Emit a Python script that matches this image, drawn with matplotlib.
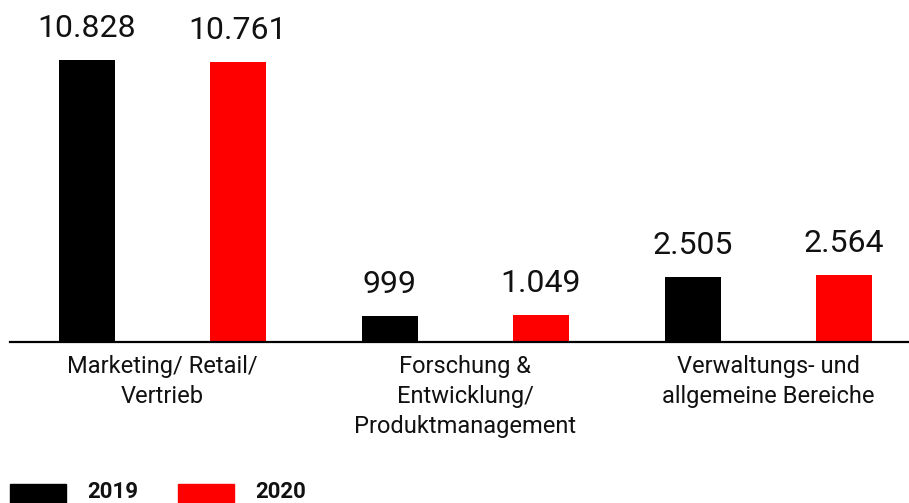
import matplotlib.pyplot as plt
import numpy as np
from matplotlib.patches import Rectangle

# Data
categories = ['Marketing/ Retail/\nVertrieb',
              'Forschung &\nEntwicklung/\nProduktmanagement',
              'Verwaltungs- und\nallgemeine Bereiche']
values_2019 = [10828, 999, 2505]
values_2020 = [10761, 1049, 2564]
series_labels = ['2019', '2020']
colors = ['#000000', '#ff0000']

def fmt(v):
    return f'{v:,}'.replace(',', '.')

plt.rcParams['font.family'] = ['Roboto', 'DejaVu Sans']

fig = plt.figure(figsize=(9.09, 5.03), dpi=100)
ax = fig.add_axes([10 / 909, 161 / 503, 899 / 909, 342 / 503])

x = np.arange(len(categories))
offset = 0.249
width = 0.185

for vals, off, col in [(values_2019, -offset, colors[0]), (values_2020, offset, colors[1])]:
    bars = ax.bar(x + off, vals, width=width, color=col)
    for b, v in zip(bars, vals):
        ax.annotate(fmt(v), (b.get_x() + b.get_width() / 2, v),
                    xytext=(0, 16.5), textcoords='offset points',
                    ha='center', va='baseline', fontsize=23, color='#111111')

ax.set_xlim(-0.503, 2.464)
ax.set_ylim(0, 13132)
ax.set_yticks([])
ax.set_xticks(x)
ax.set_xticklabels(categories, fontsize=17, color='#111111', linespacing=1.4)
ax.tick_params(axis='x', length=0, pad=9)
for s in ['top', 'right', 'left']:
    ax.spines[s].set_visible(False)
ax.spines['bottom'].set_linewidth(1.6)
ax.spines['bottom'].set_color('#000000')

# Legend at the bottom
for i, (lab, col) in enumerate(zip(series_labels, colors)):
    x0 = 10 + i * 168
    fig.patches.append(Rectangle((x0 / 909, 0), 56 / 909, 19 / 503,
                                 transform=fig.transFigure, color=col))
    fig.text((x0 + 77) / 909, 0, lab, fontsize=16, fontweight='bold',
             color='#111111', ha='left', va='bottom')

fig.savefig('out.png', dpi=100)
